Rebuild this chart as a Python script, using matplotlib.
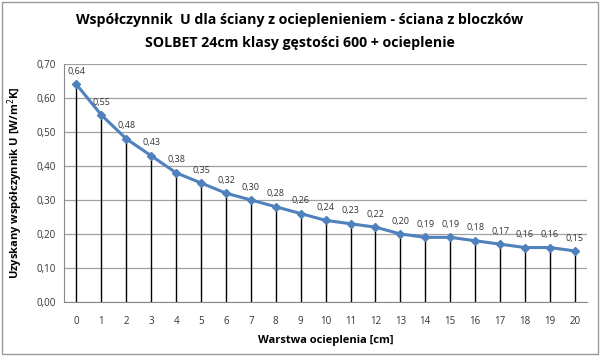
import matplotlib.pyplot as plt
from matplotlib.patches import Rectangle

# data
thickness = list(range(0, 21))
u_values = [0.64, 0.55, 0.48, 0.43, 0.38, 0.35, 0.32, 0.30, 0.28, 0.26, 0.24,
            0.23, 0.22, 0.20, 0.19, 0.19, 0.18, 0.17, 0.16, 0.16, 0.15]
y_ticks = [0.0, 0.1, 0.2, 0.3, 0.4, 0.5, 0.6, 0.7]

plt.rcParams['font.family'] = ['Open Sans', 'DejaVu Sans']

fig = plt.figure(figsize=(6, 3.56), dpi=100)
ax = fig.add_axes([0.1067, 0.152, 0.872, 0.668])

blue = '#4F81BD'

# drop lines from each point to the axis
ax.vlines(thickness, 0, u_values, colors='black', linewidth=1, zorder=2)
ax.plot(thickness, u_values, color=blue, linewidth=2.2, marker='D',
        markersize=4, markerfacecolor=blue, markeredgecolor=blue, zorder=3)

for x, v in zip(thickness, u_values):
    ax.annotate(f'{v:.2f}'.replace('.', ','), (x, v), xytext=(0, 6),
                textcoords='offset points', ha='center', va='bottom',
                fontsize=6.5, color='#333333')

ax.set_xlim(-0.5, 20.5)
ax.set_ylim(0, 0.7)
ax.set_xticks(thickness)
ax.set_yticks(y_ticks)
ax.set_yticklabels([f'{t:.2f}'.replace('.', ',') for t in y_ticks])
ax.tick_params(axis='both', length=0, labelsize=7, colors='#333333')
ax.tick_params(axis='x', pad=10)
ax.tick_params(axis='y', pad=6)
ax.grid(axis='y', color='#A0A0A0', linewidth=0.9)
ax.set_axisbelow(True)
for side in ['top', 'right']:
    ax.spines[side].set_visible(False)
for side in ['left', 'bottom']:
    ax.spines[side].set_color('#888888')

ax.set_xlabel('Warstwa ocieplenia [cm]', fontsize=8, fontweight='bold', labelpad=6)
ax.set_ylabel('Uzyskany współczynnik U [W/m$^2$K]', fontsize=8, fontweight='bold', labelpad=8)

fig.text(0.5, 0.945, 'Współczynnik  U dla ściany z ocieplenieniem - ściana z bloczków',
         ha='center', va='center', fontsize=10.2, fontweight='bold')
fig.text(0.5, 0.878, 'SOLBET 24cm klasy gęstości 600 + ocieplenie',
         ha='center', va='center', fontsize=10.2, fontweight='bold')

# outer border
fig.patches.append(Rectangle((0.003, 0.005), 0.993, 0.99, transform=fig.transFigure,
                             fill=False, edgecolor='#999999', linewidth=1))

fig.savefig('out.png', dpi=100)
